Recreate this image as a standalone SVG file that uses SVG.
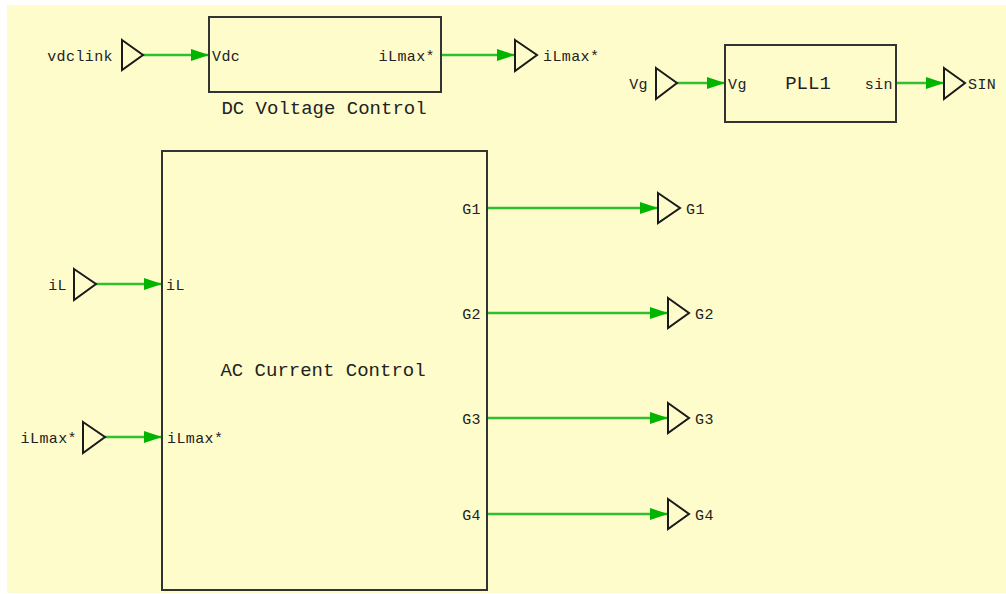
<svg xmlns="http://www.w3.org/2000/svg" width="1006" height="594" viewBox="0 0 1006 594">
<defs>
<marker id="arr" viewBox="0 0 18 12" refX="18" refY="6" markerWidth="18" markerHeight="12" markerUnits="userSpaceOnUse" orient="auto">
<path d="M0,0 L18,6 L0,12 Z" fill="#00B400"/>
</marker>
</defs>
<style>
.bg{fill:#FFFCCB}
.box{fill:none;stroke:#333;stroke-width:2}
.port{fill:none;stroke:#1a1a1a;stroke-width:2;stroke-linejoin:miter}
.wire{stroke:#2EC02E;stroke-width:2.5;fill:none}
text{font-family:"Liberation Mono","DejaVu Sans Mono",monospace;fill:#222}
.s{font-size:15px;letter-spacing:0.4px}
.l{font-size:19px}
</style>
<rect class="bg" x="7" y="5" width="999" height="588"/>

<g id="connectors">
<line class="wire" x1="143" y1="55" x2="209" y2="55" marker-end="url(#arr)"/>
<line class="wire" x1="441" y1="55" x2="515" y2="55" marker-end="url(#arr)"/>
<line class="wire" x1="677" y1="83" x2="725" y2="83" marker-end="url(#arr)"/>
<line class="wire" x1="896" y1="83" x2="944" y2="83" marker-end="url(#arr)"/>
<line class="wire" x1="96" y1="284" x2="162" y2="284" marker-end="url(#arr)"/>
<line class="wire" x1="105" y1="437" x2="162" y2="437" marker-end="url(#arr)"/>
<line class="wire" x1="487" y1="208" x2="658" y2="208" marker-end="url(#arr)"/>
<line class="wire" x1="487" y1="313" x2="668" y2="313" marker-end="url(#arr)"/>
<line class="wire" x1="487" y1="418" x2="668" y2="418" marker-end="url(#arr)"/>
<line class="wire" x1="487" y1="514" x2="668" y2="514" marker-end="url(#arr)"/>
</g>

<g id="dc-voltage-control">
<rect class="box" x="209" y="17" width="232" height="75"/>
<text class="s" x="212" y="61">Vdc</text>
<text class="s" x="435" y="61" text-anchor="end">iLmax*</text>
<text class="l" x="324" y="114" text-anchor="middle">DC Voltage Control</text>
</g>

<g id="pll1">
<rect class="box" x="725" y="45" width="171" height="77"/>
<text class="s" x="728" y="89">Vg</text>
<text class="l" x="808" y="89" text-anchor="middle">PLL1</text>
<text class="s" x="893" y="89" text-anchor="end" letter-spacing="1.5">sin</text>
</g>

<g id="ac-current-control">
<rect class="box" x="162" y="151" width="325" height="439"/>
<text class="s" x="166" y="290">iL</text>
<text class="s" x="167" y="443">iLmax*</text>
<text class="l" x="323" y="376" text-anchor="middle">AC Current Control</text>
<text class="s" x="481" y="214" text-anchor="end">G1</text>
<text class="s" x="481" y="319" text-anchor="end">G2</text>
<text class="s" x="481" y="424" text-anchor="end">G3</text>
<text class="s" x="481" y="520" text-anchor="end">G4</text>
</g>

<g id="port-vdclink">
<path class="port" d="M122,40 L143,55 L122,70 Z"/>
<text class="s" x="113" y="61" text-anchor="end">vdclink</text>
</g>
<g id="port-ilmax-out">
<path class="port" d="M515,40 L537,55 L515,71 Z"/>
<text class="s" x="543" y="61">iLmax*</text>
</g>
<g id="port-vg">
<path class="port" d="M656,68 L677,83 L656,99 Z"/>
<text class="s" x="648" y="89" text-anchor="end">Vg</text>
</g>
<g id="port-sin">
<path class="port" d="M944,68 L965,83 L944,99 Z"/>
<text class="s" x="968" y="89">SIN</text>
</g>
<g id="port-il">
<path class="port" d="M74,269 L96,284 L74,300 Z"/>
<text class="s" x="67" y="290" text-anchor="end">iL</text>
</g>
<g id="port-ilmax-in">
<path class="port" d="M83,422 L105,437 L83,453 Z"/>
<text class="s" x="77" y="443" text-anchor="end">iLmax*</text>
</g>
<g id="port-g1">
<path class="port" d="M658,193 L680,208 L658,223 Z"/>
<text class="s" x="686" y="214">G1</text>
</g>
<g id="port-g2">
<path class="port" d="M668,298 L689,313 L668,328 Z"/>
<text class="s" x="695" y="319">G2</text>
</g>
<g id="port-g3">
<path class="port" d="M668,403 L689,418 L668,433 Z"/>
<text class="s" x="695" y="424">G3</text>
</g>
<g id="port-g4">
<path class="port" d="M668,499 L689,514 L668,529 Z"/>
<text class="s" x="695" y="520">G4</text>
</g>
</svg>
